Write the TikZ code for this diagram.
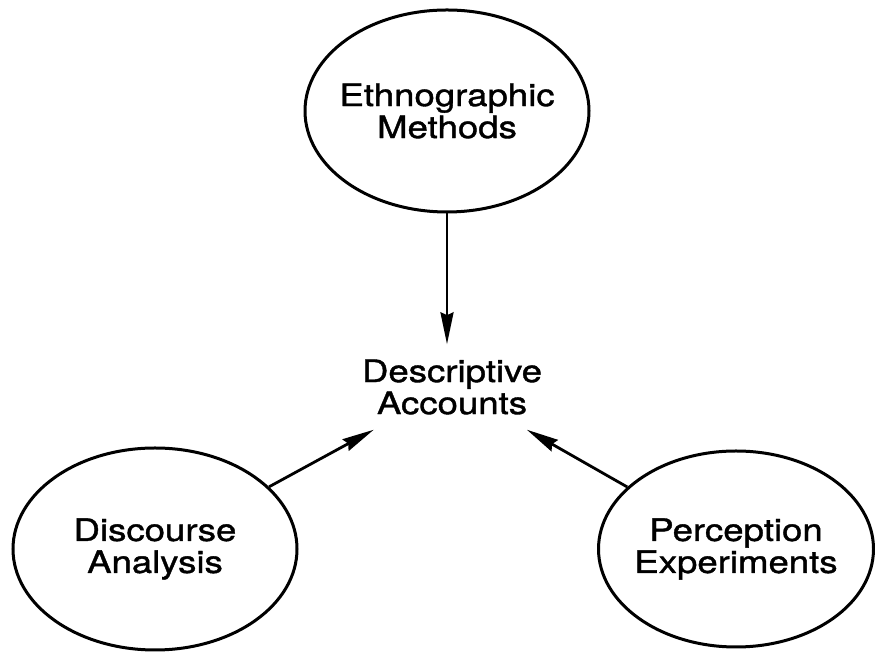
\documentclass[tikz,border=0pt]{standalone}
\usepackage{fontspec}
\setmainfont{TeX Gyre Heros}[FakeStretch=1.18, FakeBold=1.2]
\usepackage{tikz}
\usetikzlibrary{shapes.geometric, arrows.meta}

\tikzset{
    method/.style={ellipse, draw, line width=3pt, inner xsep=-30pt, inner ysep=0pt,
        minimum width=284pt, minimum height=202pt, align=center},
    account/.style={inner sep=15pt, align=center},
    feed/.style={line width=2.8pt, -{Stealth[length=32pt, width=13pt, inset=3pt]}}
}

\begin{document}
\begin{tikzpicture}[x=1pt, y=1pt, font=\fontsize{31pt}{32pt}\selectfont]
    \useasboundingbox (0, 0) rectangle (875, 652);

    % methods
    \node[method] (eth) at (447, 541) {Ethnographic\\Methods};
    \node[method] (dis) at (155, 103) {Discourse\\Analysis};
    \node[method, minimum width=275pt, minimum height=196pt] (per) at (736, 103) {Perception\\Experiments};

    % result
    \node[account] (acc) at (452, 265) {Descriptive\\Accounts};

    % arrows
    \draw[feed] (eth.south) -- (eth.south |- acc.north);
    \draw[feed] (dis) -- (acc);
    \draw[feed] (per) -- (acc);
\end{tikzpicture}
\end{document}
